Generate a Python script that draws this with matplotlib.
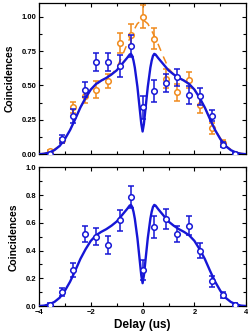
import matplotlib
matplotlib.use("Agg")
import matplotlib.pyplot as plt
from matplotlib.ticker import MultipleLocator

plt.rcParams['font.family'] = ['Liberation Sans', 'DejaVu Sans']
plt.rcParams['font.weight'] = 'bold'

BLUE = '#1616d6'
ORANGE = '#f08a1c'

# delay positions of the measured points (us)
delay = [-3.56, -3.11, -2.67, -2.22, -1.78, -1.33, -0.89, -0.44, 0.0,
         0.44, 0.89, 1.33, 1.78, 2.22, 2.67, 3.11, 3.56]

# top panel, blue data
top_blue = [0.00, 0.11, 0.28, 0.47, 0.67, 0.67, 0.64, 0.79, 0.34,
            0.46, 0.52, 0.56, 0.43, 0.42, 0.28, 0.07, 0.00]
top_blue_err = [0.01, 0.03, 0.05, 0.057, 0.063, 0.065, 0.08, 0.08, 0.085,
                0.08, 0.065, 0.063, 0.067, 0.06, 0.04, 0.02, 0.01]

# top panel, orange data
top_orange = [0.02, 0.10, 0.34, 0.42, 0.47, 0.53, 0.81, 0.87, 1.00,
              0.84, 0.55, 0.45, 0.54, 0.36, 0.19, 0.08, 0.00]
top_orange_err = [0.01, 0.02, 0.04, 0.05, 0.06, 0.05, 0.075, 0.075, 0.085,
                  0.075, 0.07, 0.06, 0.06, 0.06, 0.04, 0.02, 0.01]

# bottom panel, blue data
bot_blue = [0.01, 0.10, 0.26, 0.52, 0.50, 0.44, 0.62, 0.79, 0.26,
            0.57, 0.63, 0.52, 0.58, 0.40, 0.18, 0.08, 0.01]
bot_blue_err = [0.01, 0.03, 0.05, 0.057, 0.06, 0.065, 0.075, 0.08, 0.07,
                0.08, 0.073, 0.06, 0.067, 0.055, 0.04, 0.02, 0.01]

# fit with the dip
fit_x = [-4.0, -3.8, -3.6, -3.4, -3.2, -3.0, -2.8, -2.6, -2.4, -2.2, -2.0,
         -1.8, -1.6, -1.4, -1.2, -1.0, -0.8, -0.6, -0.5, -0.45, -0.4, -0.35,
         -0.3, -0.25, -0.2, -0.15, -0.1, -0.05, 0.0,
         0.05, 0.1, 0.15, 0.2, 0.25, 0.3, 0.35, 0.4, 0.45, 0.5, 0.6, 0.8,
         1.0, 1.2, 1.4, 1.6, 1.8, 2.0, 2.2, 2.4, 2.6, 2.8, 3.0, 3.2, 3.4,
         3.6, 3.8, 4.0]
fit_y = [0.0, 0.003, 0.012, 0.03, 0.06, 0.11, 0.175, 0.255, 0.34, 0.41, 0.47,
         0.51, 0.535, 0.555, 0.58, 0.61, 0.655, 0.70, 0.725, 0.73, 0.715, 0.68,
         0.63, 0.56, 0.49, 0.40, 0.31, 0.22, 0.165,
         0.22, 0.31, 0.40, 0.49, 0.56, 0.63, 0.68, 0.715, 0.73, 0.725, 0.70, 0.655,
         0.61, 0.58, 0.555, 0.535, 0.51, 0.47, 0.41, 0.34, 0.255, 0.175, 0.11,
         0.06, 0.03, 0.012, 0.003, 0.0]

# fit without the dip (orange dashed), same as the blue fit away from zero
env_x = [-4.0, -3.6, -3.2, -2.8, -2.4, -2.0, -1.6, -1.4, -1.2, -1.0, -0.8,
         -0.6, -0.4, -0.2, 0.0, 0.2, 0.4, 0.6, 0.8, 1.0, 1.2, 1.4, 1.6,
         2.0, 2.4, 2.8, 3.2, 3.6, 4.0]
env_y = [0.0, 0.012, 0.06, 0.175, 0.34, 0.47, 0.535, 0.555, 0.58, 0.625, 0.71,
         0.80, 0.88, 0.95, 0.98, 0.95, 0.88, 0.80, 0.71, 0.625, 0.58, 0.555, 0.535,
         0.47, 0.34, 0.175, 0.06, 0.012, 0.0]

fig = plt.figure(figsize=(2.48, 3.33), dpi=100)
ax1 = fig.add_axes([0.157, 0.537, 0.836, 0.454])
ax2 = fig.add_axes([0.157, 0.081, 0.836, 0.416])

pt = dict(fmt='o', ms=4.0, mfc='white', mew=1.1, elinewidth=1.1,
          capsize=2, capthick=1.1)

ax1.plot(env_x, env_y, color=ORANGE, lw=1.1, ls=(0, (5, 4)), zorder=1)
ax1.errorbar(delay, top_orange, yerr=top_orange_err, color=ORANGE, mec=ORANGE,
             zorder=2, **pt)
ax1.plot(fit_x, fit_y, color=BLUE, lw=1.7, zorder=3)
ax1.errorbar(delay, top_blue, yerr=top_blue_err, color=BLUE, mec=BLUE,
             zorder=4, **pt)

ax2.plot(fit_x, fit_y, color=BLUE, lw=1.7, zorder=3)
ax2.errorbar(delay, bot_blue, yerr=bot_blue_err, color=BLUE, mec=BLUE,
             zorder=4, **pt)

for ax in (ax1, ax2):
    ax.set_xlim(-4, 4)
    ax.xaxis.set_major_locator(MultipleLocator(2))
    ax.xaxis.set_minor_locator(MultipleLocator(1))
    ax.tick_params(which='both', direction='in', top=True, right=True,
                   labelsize=5.5, width=0.8, pad=2)
    ax.tick_params(which='major', length=3)
    ax.tick_params(which='minor', length=2)
    for s in ax.spines.values():
        s.set_linewidth(0.9)
    ax.set_ylabel('Coincidences', fontsize=7.5, fontweight='bold', labelpad=5)
    for lab in ax.get_xticklabels() + ax.get_yticklabels():
        lab.set_fontweight('bold')

ax1.set_ylim(0, 1.1)
ax1.yaxis.set_major_locator(MultipleLocator(0.25))
ax1.yaxis.set_minor_locator(MultipleLocator(0.125))
ax1.yaxis.set_major_formatter('{x:.2f}')
ax1.tick_params(labelbottom=False)

ax2.set_ylim(0, 1.0)
ax2.yaxis.set_major_locator(MultipleLocator(0.2))
ax2.yaxis.set_minor_locator(MultipleLocator(0.1))
ax2.yaxis.set_major_formatter('{x:.1f}')
ax2.set_xlabel('Delay (us)', fontsize=8.5, fontweight='bold', labelpad=2)

fig.savefig('out.png', dpi=100)
